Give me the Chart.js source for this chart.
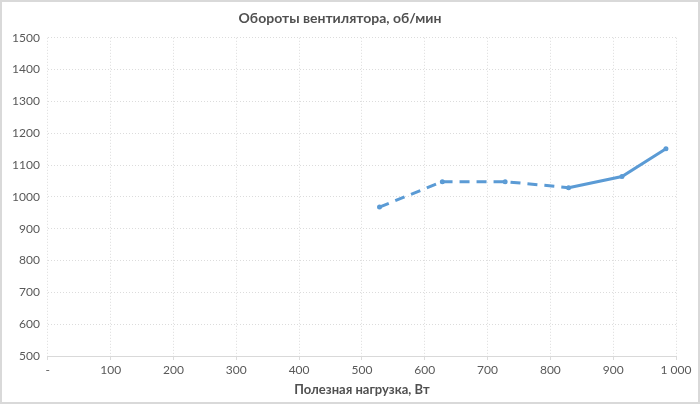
<!DOCTYPE html>
<html>
<head>
<meta charset="utf-8">
<script src="https://cdn.jsdelivr.net/npm/chart.js@4.4.0/dist/chart.umd.min.js"></script>
<style>
  html, body { margin: 0; padding: 0; background: #fff; }
  #wrap { position: absolute; left: 0; top: 0; width: 696px; height: 400px; border: 2px solid #d9d9d9; }
</style>
</head>
<body>
<div id="wrap"><canvas id="fanChart" width="696" height="400"></canvas></div>
<script>
// Обороты вентилятора
const loadW = [528, 628, 728, 829, 914, 984];
const fanRpm = [968, 1048, 1048, 1029, 1064, 1151];
const dashedUntil = 3; // первые сегменты пунктиром
const xTickLabels = { 0: '-', 1000: '1 000' };

const grey = '#595959';
const gridStyle = { color: '#dcdcdc', lineWidth: 1 };

const ctx = document.getElementById('fanChart').getContext('2d');
new Chart(ctx, {
  type: 'line',
  data: {
    datasets: [{
      label: 'Обороты',
      data: loadW.map((x, i) => ({ x: x, y: fanRpm[i] })),
      borderColor: '#5b9bd5',
      backgroundColor: '#5b9bd5',
      borderWidth: 3,
      pointRadius: 1,
      pointHoverRadius: 1,
      tension: 0,
      fill: false,
      segment: {
        borderDash: c => c.p0DataIndex < dashedUntil ? [10, 7] : undefined
      }
    }]
  },
  options: {
    responsive: false,
    animation: false,
    layout: { padding: { left: 2, right: 22, top: 4, bottom: 4 } },
    plugins: {
      legend: { display: false },
      tooltip: { enabled: false },
      title: {
        display: true,
        text: 'Обороты вентилятора, об/мин',
        color: '#505050',
        font: { family: 'Lato', size: 14, weight: 'bold' },
        padding: { top: 4, bottom: 11 }
      }
    },
    scales: {
      x: {
        type: 'linear',
        min: 0,
        max: 1000,
        ticks: {
          stepSize: 100,
          color: grey,
          font: { family: 'Lato', size: 12 },
          callback: v => xTickLabels[v] !== undefined ? xTickLabels[v] : String(v)
        },
        grid: { ...gridStyle, tickLength: 4 },
        border: { color: '#d9d9d9', dash: [1, 2] },
        title: {
          display: true,
          text: 'Полезная нагрузка, Вт',
          color: '#505050',
          font: { family: 'Lato', size: 13, weight: 'bold' },
          padding: { top: 2, bottom: 0 }
        }
      },
      y: {
        min: 500,
        max: 1500,
        ticks: {
          stepSize: 100,
          color: grey,
          font: { family: 'Lato', size: 12 },
          padding: 8,
          callback: v => String(v)
        },
        grid: { ...gridStyle, drawTicks: false },
        border: { display: false, dash: [1, 2] }
      }
    }
  }
});
</script>
</body>
</html>
